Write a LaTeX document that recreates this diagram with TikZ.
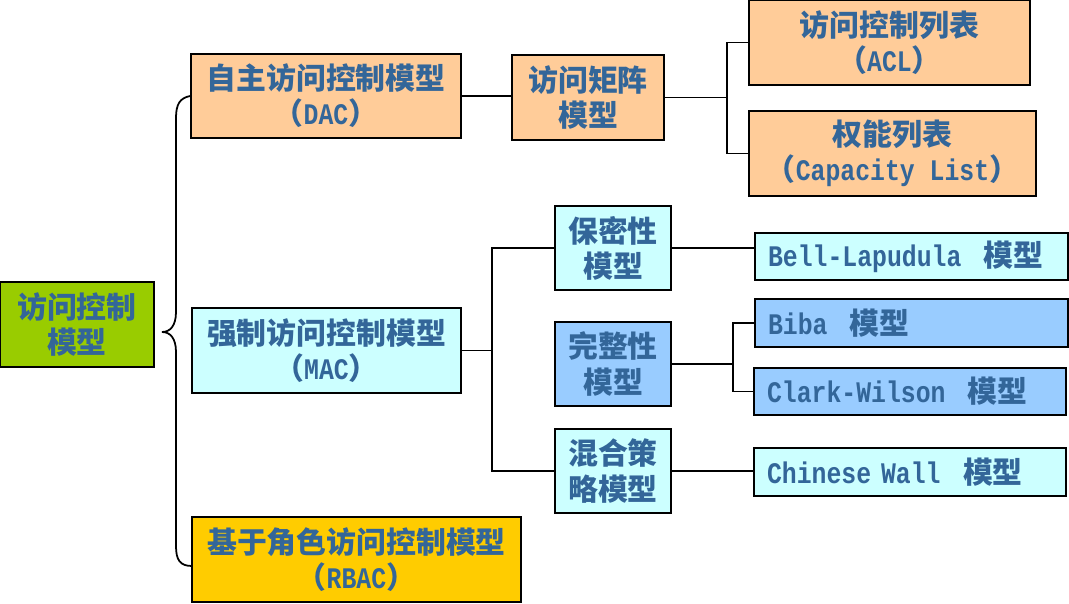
\documentclass[tikz,border=0pt]{standalone}
\usepackage{fontspec}
\setmainfont{Noto Sans CJK SC}
\newfontfamily\latinmono{Liberation Mono}[FakeStretch=0.83]
\newcommand\lm[1]{{\latinmono\bfseries #1}}
\newcommand\gap{\hspace{0.75em}}
\definecolor{txtblue}{RGB}{51,102,153}
\definecolor{rootgreen}{RGB}{153,204,0}
\definecolor{peach}{RGB}{255,204,153}
\definecolor{paleblue}{RGB}{204,255,255}
\definecolor{midblue}{RGB}{153,204,255}
\definecolor{gold}{RGB}{255,204,0}
\tikzset{
  box/.style={draw,line width=1pt,align=center,inner sep=0pt,text=txtblue,
    font=\bfseries\fontsize{17}{20}\selectfont},
  leaf/.style={box,align=left,inner xsep=0.26cm,text width=5.74cm,minimum height=0.95cm},
}
\begin{document}
\begin{tikzpicture}[x=0.02cm,y=-0.02cm,line width=1pt]
  \useasboundingbox (0,0) rectangle (1069,604);
  % root and the three main models
  \node[box,fill=rootgreen,minimum width=3.08cm,minimum height=1.7cm](root)at(77,324.5){访问控制\\模型};
  \node[box,fill=peach,minimum width=5.4cm,minimum height=1.68cm](dac)at(326,96){自主访问控制模型\\（\lm{DAC}）};
  \node[box,fill=paleblue,minimum width=5.38cm,minimum height=1.7cm](mac)at(326.5,350.5){强制访问控制模型\\（\lm{MAC}）};
  \node[box,fill=gold,minimum width=6.58cm,minimum height=1.7cm](rbac)at(356.5,559.5){基于角色访问控制模型\\（\lm{RBAC}）};
  % DAC branch
  \node[box,fill=peach,minimum width=3.04cm,minimum height=1.7cm](mat)at(588,97.5){访问矩阵\\模型};
  \node[box,fill=peach,minimum width=5.62cm,minimum height=1.7cm](acl)at(889.5,42.5){访问控制列表\\（\lm{ACL}）};
  \node[box,fill=peach,minimum width=5.74cm,minimum height=1.7cm](cap)at(892.5,153.5){权能列表\\（\lm{Capacity List}）};
  % MAC branch
  \node[box,fill=paleblue,minimum width=2.32cm,minimum height=1.68cm](sec)at(613,248){保密性\\模型};
  \node[box,fill=midblue,minimum width=2.32cm,minimum height=1.68cm](int)at(613,364){完整性\\模型};
  \node[box,fill=paleblue,minimum width=2.32cm,minimum height=1.68cm](mix)at(613,471){混合策\\略模型};
  \node[leaf,fill=paleblue](bell)at(911.5,256.5){\lm{Bell-Lapudula}\gap 模型};
  \node[leaf,fill=midblue](biba)at(911.5,323){\lm{Biba}\gap 模型};
  \node[leaf,fill=midblue,text width=5.72cm](clark)at(910,391.5){\lm{Clark-Wilson}\gap 模型};
  \node[leaf,fill=paleblue,text width=5.72cm](chin)at(910,472){\lm{Chinese Wall}\gap 模型};
  % brace
  \coordinate(tip)at(162,332);
  \coordinate(brb)at(192,566);
  \draw(dac.west)..controls(180,98)and(176,104)..(176,118)--(176,312)
    ..controls(176,326)and(170,332)..(tip)
    ..controls(170,332)and(176,338)..(176,352)--(176,546)
    ..controls(176,560)and(180,566)..(brb);
  % connectors
  \coordinate(busA)at(727,97.5);
  \coordinate(busM)at(492,350.5);
  \coordinate(busI)at(733,364);
  \draw(dac.east)--(dac.east-|mat.west);
  \draw(mat.east)--(busA);
  \draw(acl.west)-|(busA)|-(cap.west);
  \draw(mac.east)--(busM);
  \draw(sec.west)-|(busM)|-(mix.west);
  \draw(sec.east)--(sec.east-|bell.west);
  \draw(int.east)--(busI);
  \draw(biba.west)-|(busI)|-(clark.west);
  \draw(mix.east)--(mix.east-|chin.west);
\end{tikzpicture}
\end{document}
